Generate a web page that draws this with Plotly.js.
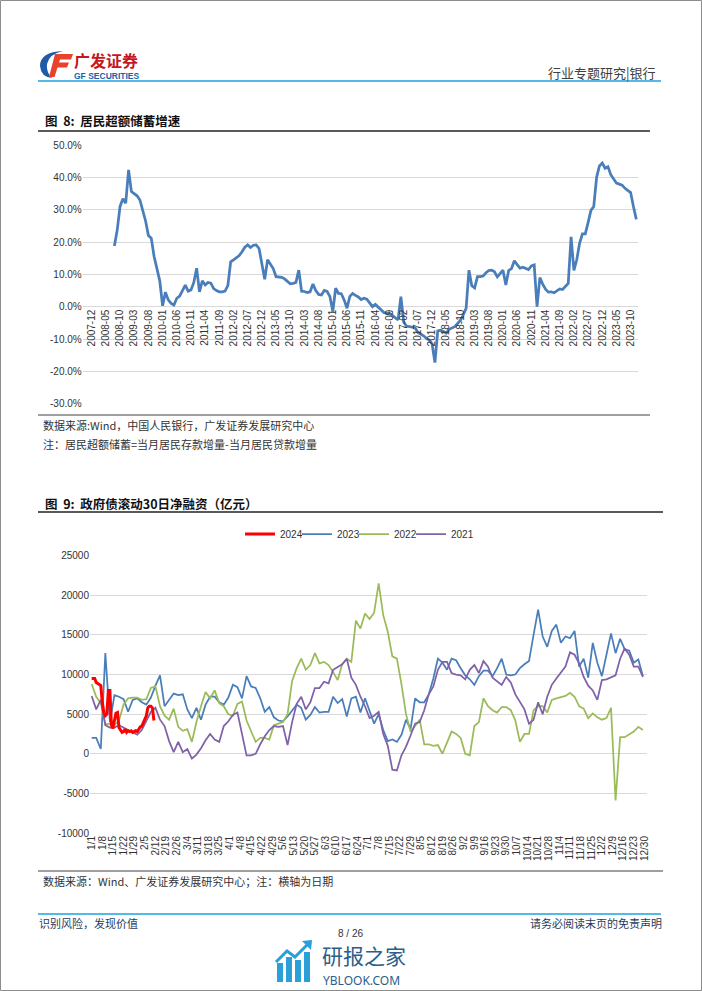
<!DOCTYPE html>
<html>
<head>
<meta charset="utf-8">
<script src="https://cdn.plot.ly/plotly-3.0.1.min.js"></script>
<style>
html,body{margin:0;padding:0;background:#fff;}
#page{width:702px;height:991px;}
</style>
</head>
<body>
<div id="page"></div>
<script>
// ---------------- Chart 1 data: 居民超额储蓄增速 (%), monthly 2008-08 .. 2023-12
const savingsStartMonth = "2008-08";
const savingsEndMonth = "2023-12";
const savingsGrowth = [
18.8,23.7,31.0,33.4,32.0,42.3,35.6,35.0,34.3,33.0,30.0,26.5,22.0,21.2,15.5,11.6,8.0,0.3,4.5,2.1,
1.0,0.5,2.6,3.3,5.0,6.7,4.8,5.2,7.5,11.9,4.6,8.0,6.7,7.5,7.3,5.6,5.0,4.6,4.6,4.8,
6.5,13.9,14.5,15.1,15.8,17.0,18.4,19.1,18.3,19.0,19.1,18.0,13.8,8.5,14.5,13.2,11.8,9.3,9.3,9.1,
8.6,7.8,7.1,7.2,7.5,11.3,4.8,4.7,4.4,4.6,7.0,5.0,3.8,3.6,5.0,4.7,3.1,-1.5,5.7,4.1,
4.0,2.1,-0.5,3.2,4.1,3.5,3.0,2.2,2.6,2.3,1.2,0.0,0.7,-0.2,-1.2,-1.8,-2.1,-2.1,-2.7,-3.4,
-4.1,3.1,-4.8,-6.0,-6.2,-6.2,-6.5,-8.0,-8.5,-9.0,-9.8,-10.3,-11.5,-17.3,-7.5,-7.3,-7.7,-8.2,-7.0,-6.6,
-6.2,-5.2,-4.2,-2.5,-0.5,11.3,6.5,5.8,9.3,9.3,9.5,10.5,11.2,11.3,10.8,9.2,10.2,11.3,6.7,11.2,
11.8,14.2,13.0,11.9,12.2,11.9,11.5,12.6,12.9,0.0,9.0,7.0,5.4,4.5,4.6,4.3,4.9,5.5,5.3,6.2,
7.2,21.6,11.2,14.5,19.6,22.5,22.5,26.0,29.8,31.0,40.0,43.5,44.4,42.8,43.3,40.8,39.5,38.2,37.9,37.6,
36.6,35.9,35.3,30.9,27.0
];
const axisStartMonth = "2007-12";
const tickLabels1 = ["2007-12","2008-05","2008-10","2009-03","2009-08","2010-01","2010-06","2010-11","2011-04","2011-09","2012-02","2012-07","2012-12","2013-05","2013-10","2014-03","2014-08","2015-01","2015-06","2015-11","2016-04","2016-09","2017-02","2017-07","2017-12","2018-05","2018-10","2019-03","2019-08","2020-01","2020-06","2020-11","2021-04","2021-09","2022-02","2022-07","2022-12","2023-05","2023-10"];
const yTicks1 = [-30,-20,-10,0,10,20,30,40,50];

// ---------------- Chart 2 data: 政府债滚动30日净融资 (亿元), sampled every 3 days from 1/1
const sampleStepDays = 3;
const net2023 = [
2000,2000,600,12700,4000,7400,7200,6900,5300,6800,7000,6500,6200,7100,8600,9900,6000,6800,7600,7400,
7500,5600,4500,5800,4300,6200,7200,7200,6500,6200,7100,8700,8400,7000,9800,8500,8300,7000,5300,5900,
4600,4200,4100,4700,5500,6200,5800,4300,4900,5900,5200,5300,5300,7200,6400,6900,4700,7000,7200,5200,
7000,5500,3800,5000,3000,1600,1800,1500,2400,4300,3100,7000,6500,6500,7500,9500,12000,11500,10600,12000,
11800,10800,9900,9400,8700,9800,10500,10500,9800,10800,12000,10000,9900,10000,10800,11300,11700,15000,18200,14800,
13500,15500,16300,14000,14800,14600,15500,11000,12000,9600,14000,11500,9800,12500,15200,12700,14500,13200,13000,11500,
11900,9800
];
const net2022 = [
8800,7200,6400,3700,3800,3600,4200,6200,7000,7100,7100,6800,6900,8300,8500,6000,4800,4300,5700,3400,
2900,3100,1500,4000,6000,7800,7000,8000,6400,6000,5000,4800,6300,6600,4200,2800,1500,2000,2000,1800,
3600,3800,4000,5000,9200,10800,12000,10600,11200,12700,11400,11600,11200,10300,9300,11300,12000,11600,16800,15800,
17700,17000,17800,21500,17500,15400,12300,12000,8800,5000,2800,3500,4300,1200,1200,1000,1100,0,1500,2800,
2500,2000,0,-200,3500,4000,7000,6000,5500,5200,5900,5900,5500,4200,1500,2500,2500,5500,6000,6000,
5200,6800,7000,7200,7300,7700,7200,6000,5700,4500,5100,4600,4300,4500,5800,-5900,2100,2100,2500,2800,
3400,3000
];
const net2021 = [
7300,5600,6800,3600,3300,3300,3600,3300,2900,2700,2400,3000,4100,5300,5800,4300,3500,1600,200,1500,
200,600,-600,-100,700,1700,2500,1800,1500,3500,4100,4900,5200,2500,-200,-200,0,1200,2200,3000,
3500,3400,3500,1100,4000,6300,7200,5600,6500,8300,8300,9100,8900,10600,11000,11300,12000,9600,8700,7200,
6000,4500,4800,5300,2500,1000,-2000,-2100,-200,900,2300,3800,4000,5500,7500,8500,10600,11600,11600,10200,
10000,9900,9400,10600,11200,10200,11700,11000,9600,9100,8700,9700,9000,7500,6500,5600,3800,4300,6500,5000,
7200,8700,9500,10200,11000,12800,12500,11400,9700,8600,8000,6800,9300,9400,9700,9900,12000,13300,12500,11000,
11000,9700
];
// 2024: daily from 1/1
const net2024 = [
9500,9500,9500,9000,8900,8700,8600,6500,5200,4800,5000,8000,8000,3600,3200,4200,5100,5200,3300,3000,
2700,2800,3100,2700,2900,2800,2900,2700,2800,2900,2800,3200,3400,3500,3900,4500,4800,5800,6000,6000,
5800,4200
];
const dayTickLabels = ["1/1","1/8","1/15","1/22","1/29","2/5","2/12","2/19","2/26","3/4","3/11","3/18","3/25","4/1","4/8","4/15","4/22","4/29","5/6","5/13","5/20","5/27","6/3","6/10","6/17","6/24","7/1","7/8","7/15","7/22","7/29","8/5","8/12","8/19","8/26","9/2","9/9","9/16","9/23","9/30","10/7","10/14","10/21","10/28","11/4","11/11","11/18","11/25","12/2","12/9","12/16","12/23","12/30"];
const yTicks2 = [-10000,-5000,0,5000,10000,15000,20000,25000];

// ---------------- helpers
const W = 702, H = 991;
const fx = x => x / W;
const fy = y => 1 - y / H;
function monthRange(start, end) {
  let [y, m] = start.split('-').map(Number);
  const [ey, em] = end.split('-').map(Number);
  const out = [];
  while (y < ey || (y === ey && m <= em)) {
    out.push(y + '-' + String(m).padStart(2, '0'));
    m++; if (m > 12) { m = 1; y++; }
  }
  return out;
}
const monthCats = monthRange(axisStartMonth, savingsEndMonth);
const dataMonths = monthRange(savingsStartMonth, savingsEndMonth);

function pathPx(cmds) {
  return cmds.map(c => {
    const k = c[0]; const nums = c.slice(1); const out = [];
    for (let i = 0; i < nums.length; i += 2) out.push(fx(nums[i]).toFixed(5) + ',' + fy(nums[i + 1]).toFixed(5));
    return k + (out.length ? ' ' + out.join(' ') : '');
  }).join(' ');
}
function hline(x0, x1, y, color, width) {
  return {type: 'line', xref: 'paper', yref: 'paper', x0: fx(x0), x1: fx(x1), y0: fy(y), y1: fy(y),
          line: {color: color, width: width}, layer: 'above'};
}
function txt(text, x, y, opts) {
  opts = opts || {};
  return Object.assign({
    text: text, xref: 'paper', yref: 'paper', x: fx(x), y: fy(y),
    xanchor: 'left', yanchor: 'middle', showarrow: false, borderpad: 0,
    font: {family: 'Noto Sans CJK SC, sans-serif', size: 11, color: '#333333'}
  }, opts);
}

const CJK = 'Noto Sans CJK SC, sans-serif';
const LAT = 'Liberation Sans, Arial, sans-serif';

// ---------------- traces
const dayX = arr => arr.map((_, i) => i * sampleStepDays);
const traces = [
  {x: dataMonths, y: savingsGrowth, type: 'scatter', mode: 'lines', xaxis: 'x', yaxis: 'y',
   line: {color: '#4A7EBB', width: 2.75}, showlegend: false},
  {x: dayX(net2023), y: net2023, name: '2023', type: 'scatter', mode: 'lines', xaxis: 'x2', yaxis: 'y2',
   line: {color: '#4A7EBB', width: 1.75}, legendrank: 2},
  {x: dayX(net2022), y: net2022, name: '2022', type: 'scatter', mode: 'lines', xaxis: 'x2', yaxis: 'y2',
   line: {color: '#9BBB59', width: 1.75}, legendrank: 3},
  {x: dayX(net2021), y: net2021, name: '2021', type: 'scatter', mode: 'lines', xaxis: 'x2', yaxis: 'y2',
   line: {color: '#7F62A8', width: 1.75}, legendrank: 4, legendwidth: 30},
  {x: net2024.map((_, i) => i), y: net2024, name: '2024', type: 'scatter', mode: 'lines', xaxis: 'x2', yaxis: 'y2',
   line: {color: '#FF0000', width: 3}, legendrank: 1}
];

// ---------------- layout geometry (pixels)
const c1 = {left: 82.7, right: 638.3, top: 145, bottom: 403.7, zeroY: 306.7};
const c2 = {left: 90, right: 647.3, top: 555.7, bottom: 833};

const tickFont = {family: LAT, size: 10, color: '#333333'};

const shapes = [
  // page border
  {type: 'rect', xref: 'paper', yref: 'paper', x0: fx(0.5), x1: fx(701.5), y0: fy(0.5), y1: fy(990.5),
   line: {color: '#8C8C8C', width: 1}, layer: 'above'},
  // header / footer blue rules
  hline(38, 661, 81, '#1BA1E2', 1.5),
  hline(38, 661, 914, '#1BA1E2', 1.5),
  // chart 1 rules
  hline(38, 650, 131, '#595959', 2),
  hline(38, 650, 415, '#7F7F7F', 1.5),
  // chart 2 rules
  hline(38, 663, 512, '#595959', 2),
  hline(38, 663, 871, '#7F7F7F', 1.5),
  // logo: blue crescent
  {type: 'path', xref: 'paper', yref: 'paper', fillcolor: '#1E5BA8', line: {width: 0},
   path: pathPx([['M', 63, 51], ['Q', 40, 52, 40, 66], ['Q', 41, 77, 52, 78], ['Q', 46, 72, 47, 64], ['Q', 49, 54, 63, 51], ['Z']])},
  // logo: red F
  {type: 'path', xref: 'paper', yref: 'paper', fillcolor: '#E8412C', line: {width: 0},
   path: pathPx([['M', 55, 54], ['L', 73, 54], ['L', 71, 59.5], ['L', 60, 59.5], ['L', 59, 62.5], ['L', 69, 62.5],
                 ['L', 67, 67.5], ['L', 57.5, 67.5], ['L', 54.5, 77], ['L', 49, 77], ['Z']])},
  // watermark icon bars
  {type: 'rect', xref: 'paper', yref: 'paper', x0: fx(277), x1: fx(283), y0: fy(982), y1: fy(963), fillcolor: '#2A9FD8', line: {width: 0}},
  {type: 'rect', xref: 'paper', yref: 'paper', x0: fx(286), x1: fx(292), y0: fy(982), y1: fy(957), fillcolor: '#2A9FD8', line: {width: 0}},
  {type: 'rect', xref: 'paper', yref: 'paper', x0: fx(295), x1: fx(301), y0: fy(982), y1: fy(960), fillcolor: '#2A9FD8', line: {width: 0}},
  {type: 'rect', xref: 'paper', yref: 'paper', x0: fx(304), x1: fx(310), y0: fy(982), y1: fy(952), fillcolor: '#2A9FD8', line: {width: 0}},
  {type: 'path', xref: 'paper', yref: 'paper', line: {color: '#2A9FD8', width: 3},
   path: pathPx([['M', 276, 962], ['L', 287, 951], ['L', 295, 957], ['L', 308, 944]])},
  {type: 'path', xref: 'paper', yref: 'paper', fillcolor: '#2A9FD8', line: {width: 0},
   path: pathPx([['M', 312, 940], ['L', 311, 950], ['L', 302, 941], ['Z']])}
];

const annotations = [
  txt('<b>广发证券</b>', 73, 60, {font: {family: CJK, size: 16, color: '#C8161D'}}),
  txt('<b>GF SECURITIES</b>', 73, 76, {font: {family: LAT, size: 8.5, color: '#1B5FAA'}}),
  txt('行业专题研究|银行', 657, 72, {xanchor: 'right', font: {family: CJK, size: 13, color: '#404040'}}),
  txt('<b>图  8:  居民超额储蓄增速</b>', 44, 121, {font: {family: CJK, size: 12.5, color: '#111111'}}),
  txt('数据来源:Wind，中国人民银行，广发证券发展研究中心', 42, 425, {font: {family: CJK, size: 11, color: '#333333'}}),
  txt('注：居民超额储蓄=当月居民存款增量-当月居民贷款增量', 42, 444, {font: {family: CJK, size: 11, color: '#333333'}}),
  txt('<b>图  9:  政府债滚动30日净融资（亿元）</b>', 44, 503, {font: {family: CJK, size: 12.5, color: '#111111'}}),
  txt('数据来源：Wind、广发证券发展研究中心；注：横轴为日期', 42, 881, {font: {family: CJK, size: 11, color: '#333333'}}),
  txt('识别风险，发现价值', 38, 923, {font: {family: CJK, size: 11, color: '#1F3B5C'}}),
  txt('请务必阅读末页的免责声明', 663, 923, {xanchor: 'right', font: {family: CJK, size: 11, color: '#1F3B5C'}}),
  txt('8 / 26', 350, 933, {xanchor: 'center', font: {family: LAT, size: 10, color: '#333333'}}),
  txt('研报之家', 321, 955, {font: {family: CJK, size: 21, color: '#2B5E8C'}}),
  txt('YBLOOK.COM', 322, 980, {font: {family: 'Noto Sans, sans-serif', size: 12, color: '#2B5E8C'}})
];

const layout = {
  width: W, height: H,
  margin: {l: 0, r: 0, t: 0, b: 0},
  paper_bgcolor: '#ffffff', plot_bgcolor: 'rgba(0,0,0,0)',
  font: {family: LAT, size: 10, color: '#333333'},
  hovermode: false,
  showlegend: true,
  legend: {orientation: 'h', x: fx(240), xanchor: 'left', y: fy(534), yanchor: 'middle',
           font: {family: LAT, size: 10, color: '#333333'}, bgcolor: 'rgba(0,0,0,0)',
           itemwidth: 30, entrywidth: 12, entrywidthmode: 'pixels', traceorder: 'normal'},
  xaxis: {
    type: 'category', categoryorder: 'array', categoryarray: monthCats,
    range: [-3.17, 192.7], domain: [fx(c1.left), fx(c1.right)],
    anchor: 'free', position: fy(c1.zeroY),
    tickmode: 'array', tickvals: tickLabels1, ticktext: tickLabels1, tickangle: -90,
    showgrid: false, zeroline: false, showline: false, ticks: '', tickfont: tickFont, fixedrange: true
  },
  yaxis: {
    range: [-30, 50], domain: [fy(c1.bottom), fy(c1.top)], anchor: 'x',
    tickmode: 'array', tickvals: yTicks1, ticktext: yTicks1.map(v => v.toFixed(1) + '%'),
    showgrid: true, gridcolor: '#D9D9D9', gridwidth: 1, zeroline: false, showline: false, ticks: '',
    tickfont: tickFont, fixedrange: true
  },
  xaxis2: {
    range: [-1.1, 365.9], domain: [fx(c2.left), fx(c2.right)], anchor: 'y2',
    tickmode: 'array', tickvals: dayTickLabels.map((_, i) => i * 7), ticktext: dayTickLabels, tickangle: -90,
    showgrid: false, zeroline: false, showline: false, ticks: '', tickfont: tickFont, fixedrange: true
  },
  yaxis2: {
    range: [-10000, 25000], domain: [fy(c2.bottom), fy(c2.top)], anchor: 'x2',
    tickmode: 'array', tickvals: yTicks2, ticktext: yTicks2.map(v => String(v)),
    showgrid: true, gridcolor: '#D9D9D9', gridwidth: 1, zeroline: false, showline: false, ticks: '',
    tickfont: tickFont, fixedrange: true
  },
  shapes: shapes,
  annotations: annotations
};

Plotly.newPlot('page', traces, layout, {staticPlot: true, displayModeBar: false});
</script>
</body>
</html>
